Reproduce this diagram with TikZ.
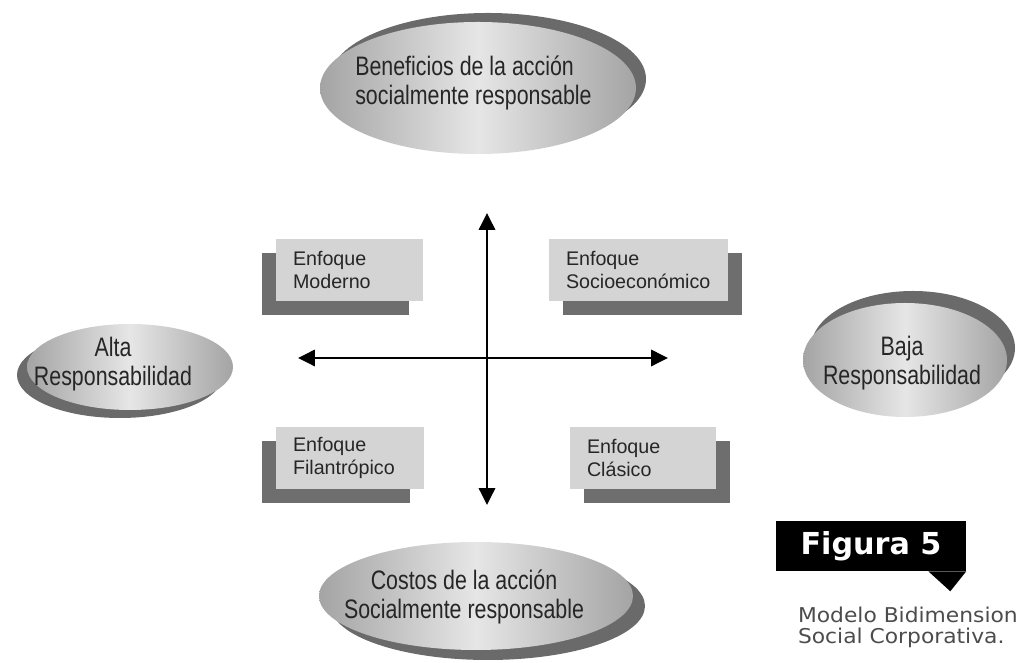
\documentclass[tikz,border=0pt]{standalone}
\usepackage{fontspec}
\usepackage{xcolor}
\usetikzlibrary{shapes.geometric, shadows, positioning, arrows.meta}

\setmainfont{Liberation Sans}
\newfontfamily\ovalfont{Liberation Sans}[FakeStretch=0.8]
\newfontfamily\figfont{DejaVu Sans}
\newfontfamily\capfont{DejaVu Sans}[FakeStretch=1.07]

\definecolor{ovalside}{HTML}{A4A4A4}
\definecolor{ovalmid}{HTML}{E6E6E6}
\definecolor{ovalshadow}{HTML}{6A6A6A}
\definecolor{boxfill}{HTML}{D4D4D4}
\definecolor{boxshadow}{HTML}{6E6E6E}

\begin{document}
\begin{tikzpicture}
\useasboundingbox (0,0) rectangle (25.4,16.575);
\clip (0,0) rectangle (25.4,16.575);

% Define styles
\tikzstyle{oval} = [ellipse, inner sep=0pt, left color=ovalside, right color=ovalside, middle color=ovalmid]
\tikzstyle{ovaltext} = [inner sep=0pt, align=center, text=black!85, font=\ovalfont\fontsize{19}{20.5}\selectfont]
\tikzstyle{approach} = [rectangle, fill=boxfill, minimum height=1.55cm, inner xsep=0.425cm, inner ysep=0pt, align=left, text=black!85, font=\fontsize{14}{16.4}\selectfont]
\tikzstyle{shadowleft} = [drop shadow={shadow xshift=-0.35cm, shadow yshift=-0.36cm, fill=boxshadow, opacity=1}]
\tikzstyle{shadowright} = [drop shadow={shadow xshift=0.35cm, shadow yshift=-0.36cm, fill=boxshadow, opacity=1}]
\tikzstyle{axis} = [line width=2.1pt, <->, >={Stealth[inset=0pt, length=4.2mm, width=4mm]}]
\tikzstyle{figbox} = [rectangle, fill=black, text=white, minimum width=4.75cm, minimum height=1.25cm, inner sep=0pt, font=\figfont\bfseries\fontsize{21.5}{26}\selectfont]
\tikzstyle{caption} = [inner sep=0pt, align=left, text=black!70, font=\capfont\fontsize{14.5}{15.2}\selectfont]

% Draw ovals
\node [oval, minimum width=7.9cm, minimum height=3.3cm, drop shadow={shadow xshift=0.25cm, shadow yshift=0.225cm, fill=ovalshadow, opacity=1}] (ovalN) at (11.95,14.375) {};
\node [oval, minimum width=7.85cm, minimum height=2.7cm, drop shadow={shadow xshift=0.3cm, shadow yshift=-0.25cm, fill=ovalshadow, opacity=1}] (ovalS) at (11.9,1.675) {};
\node [oval, minimum width=5.15cm, minimum height=2.15cm, drop shadow={shadow xshift=-0.25cm, shadow yshift=-0.2cm, fill=ovalshadow, opacity=1}] (ovalW) at (3.25,7.4) {};
\node [oval, minimum width=5.1cm, minimum height=2.85cm, drop shadow={shadow xshift=0.2cm, shadow yshift=0.3cm, fill=ovalshadow, opacity=1}] (ovalE) at (22.625,7.575) {};

\node [ovaltext, align=left, anchor=west] (benef) at (8.875,14.5) {Beneficios de la acción\\socialmente responsable};
\node [ovaltext] (costos) at (11.6,1.65) {Costos de la acción\\Socialmente responsable};
\node [ovaltext] (alta) at (2.825,7.475) {Alta\\Responsabilidad};
\node [ovaltext] (baja) at (22.55,7.5) {Baja\\Responsabilidad};

% Draw boxes
\node [approach, shadowleft, text width=2.825cm] (moderno) at (8.7375,9.825) {Enfoque\\Moderno};
\node [approach, shadowright, text width=3.625cm] (socio) at (15.9625,9.825) {Enfoque\\Socioeconómico};
\node [approach, shadowleft, text width=2.85cm] (filan) at (8.75,5.125) {Enfoque\\Filantrópico};
\node [approach, shadowright, text width=2.8cm] (clasico) at (16.075,5.125) {Enfoque\\Clásico};

% Draw axes
\coordinate (north) at (12.175,11.25);
\coordinate (south) at (12.175,3.95);
\coordinate (west) at (7.45,7.625);
\coordinate (east) at (16.7,7.625);
\draw [axis] (south) -- (north);
\draw [axis] (west) -- (east);

% Figure label
\node [figbox] (fig) at (21.775,2.925) {Figura 5};
\fill ([xshift=-0.95cm]fig.south east) -- (fig.south east) -- ([xshift=-0.4cm,yshift=-0.5cm]fig.south east) -- cycle;
\node [caption, below right=0.88cm and 0.55cm of fig.south west] (cap) {Modelo Bidimensional\\Social Corporativa.};
\end{tikzpicture}
\end{document}
